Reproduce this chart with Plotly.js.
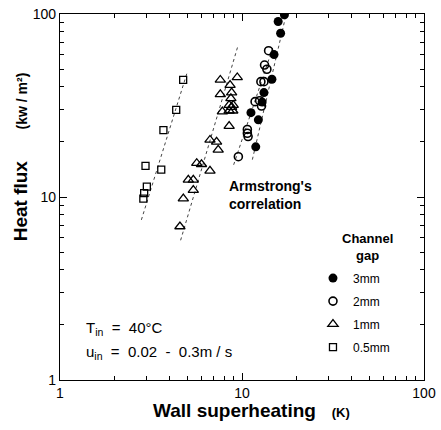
<!DOCTYPE html>
<html><head><meta charset="utf-8">
<script src="https://cdn.plot.ly/plotly-3.0.1.min.js"></script>
<style>html,body{margin:0;padding:0;background:#fff}#c{width:441px;height:430px}</style>
</head><body><div id="c"></div>
<script>
// 3mm gap (filled circles)
const x3 = [17.1, 15.8, 16.3, 15.0, 14.6, 13.2, 12.9, 11.2, 12.3, 11.9];
const y3 = [99, 91, 78.5, 60, 44, 37.2, 33, 28.9, 26.4, 18.8];
// 2mm gap (open circles)
const x2 = [14.0, 13.3, 13.7, 12.7, 13.2, 11.8, 12.5, 12.8, 10.7, 10.7, 10.8, 9.55];
const y2 = [63, 52.6, 49.9, 42.7, 42.7, 33.2, 33.6, 31.4, 23.4, 22.3, 21.4, 16.6];
// 1mm gap (open triangles)
const x1 = [8.6, 7.6, 8.77, 7.6, 8.69, 8.5, 8.77, 8.95, 8.5, 8.9, 7.8, 8.5, 6.67, 7.25, 7.4, 5.64, 5.99, 6.67, 5.07, 5.4, 5.4, 4.76, 4.56, 9.42];
const y1 = [40.9, 43.6, 37.2, 36.4, 34.6, 31.8, 31.0, 31.8, 29.6, 29.6, 29.3, 24.4, 20.5, 20, 18.1, 15.3, 15.1, 13.9, 12.4, 12.4, 10.9, 9.8, 6.9, 45];
// 0.5mm gap (open squares)
const x05 = [3.7, 3.0, 2.9, 2.87, 2.95, 3.6, 4.35, 4.75];
const y05 = [23.2, 11.4, 10.5, 9.8, 14.8, 14.1, 29.9, 43.6];
// Armstrong's correlation (dotted lines)
const corrX05 = [2.8, 5.0], corrY05 = [7.5, 48];
const corrX1 = [4.6, 9.5], corrY1 = [5.8, 67];
const corrX2 = [9.0, 14.8], corrY2 = [15, 66];
const corrX3 = [11.4, 17.5], corrY3 = [16, 100];
const legendNames = ['3mm', '2mm', '1mm', '0.5mm'];
const xTicks = [1, 10, 100], yTicks = [1, 10, 100];
const minorX = [2,3,4,5,6,7,8,9,20,30,40,50,60,70,80,90];
const minorY = [2,3,4,5,6,7,8,9,20,30,40,50,60,70,80,90];

const dotLine = {color: '#444', width: 1, dash: 'dot'};
const corr = [[corrX05, corrY05], [corrX1, corrY1], [corrX2, corrY2], [corrX3, corrY3]].map(p => ({
  x: p[0], y: p[1], mode: 'lines', line: dotLine, showlegend: false, hoverinfo: 'skip'
}));

const traces = corr.concat([
  {x: x3, y: y3, mode: 'markers', name: legendNames[0], legendgroup: 'a',
   marker: {symbol: 'circle', size: 9, color: '#000'}},
  {x: x2, y: y2, mode: 'markers', name: legendNames[1], legendgroup: 'b',
   marker: {symbol: 'circle-open', size: 8, color: '#000', line: {width: 1.6}}},
  {x: x1, y: y1, mode: 'markers', name: legendNames[2], legendgroup: 'c',
   marker: {symbol: 'triangle-up-open', size: 9, color: '#000', line: {width: 1.3}}},
  {x: x05, y: y05, mode: 'markers', name: legendNames[3], legendgroup: 'd',
   marker: {symbol: 'square-open', size: 7, color: '#000', line: {width: 1.3}}}
]);

const axisCommon = {
  type: 'log', showgrid: false, zeroline: false, showline: true, linecolor: '#000', linewidth: 1.2,
  mirror: 'ticks', ticks: 'inside', ticklen: 7, tickcolor: '#000', tickwidth: 1,
  tickfont: {size: 14, color: '#000'}, tickmode: 'array'
};

const layout = {
  width: 441, height: 430,
  margin: {l: 60, r: 17, t: 14, b: 50},
  paper_bgcolor: '#fff', plot_bgcolor: '#fff',
  font: {family: 'Liberation Sans, Arial, sans-serif', color: '#000'},
  xaxis: Object.assign({}, axisCommon, {range: [0, 2], tickvals: xTicks, ticktext: xTicks.map(String),
    minor: {tickvals: minorX, ticks: 'inside', ticklen: 4, tickcolor: '#000'}}),
  yaxis: Object.assign({}, axisCommon, {range: [0, 2], tickvals: yTicks, ticktext: yTicks.map(String),
    minor: {tickvals: minorY, ticks: 'inside', ticklen: 4, tickcolor: '#000'}}),
  showlegend: true,
  legend: {
    x: 0.695, y: 0.318, xanchor: 'left', yanchor: 'top',
    bgcolor: 'rgba(0,0,0,0)', font: {size: 12, color: '#000'},
    tracegroupgap: 4, itemwidth: 30
  },
  annotations: [
    {xref: 'paper', yref: 'paper', x: -0.110, y: 0.611, textangle: -90, showarrow: false,
     xanchor: 'center', yanchor: 'middle',
     text: '<b>Heat flux</b>      <b><span style="font-size:14px">(kw / m²)</span></b>', font: {size: 19}},
    {xref: 'paper', yref: 'paper', x: 0.527, y: -0.082, showarrow: false,
     xanchor: 'center', yanchor: 'middle',
     text: '<b>Wall superheating</b>   <b><span style="font-size:13px">(K)</span></b>', font: {size: 19}},
    {xref: 'paper', yref: 'paper', x: 0.846, y: 0.363, showarrow: false, xanchor: 'center', yanchor: 'middle',
     text: '<b>Channel<br>gap</b>', font: {size: 13}},
    {xref: 'paper', yref: 'paper', x: 0.459, y: 0.557, showarrow: false, xanchor: 'left', yanchor: 'top', align: 'left',
     text: "<b>Armstrong's<br>correlation</b>", font: {size: 14}},
    {xref: 'paper', yref: 'paper', x: 0.066, y: 0.142, showarrow: false, xanchor: 'left', yanchor: 'middle',
     text: 'T<sub>in</sub>  =  40°C', font: {size: 15}},
    {xref: 'paper', yref: 'paper', x: 0.066, y: 0.074, showarrow: false, xanchor: 'left', yanchor: 'middle',
     text: 'u<sub>in</sub>  =  0.02  -  0.3m / s', font: {size: 15}}
  ]
};

Plotly.newPlot('c', traces, layout, {displayModeBar: false, staticPlot: true});
</script></body></html>
